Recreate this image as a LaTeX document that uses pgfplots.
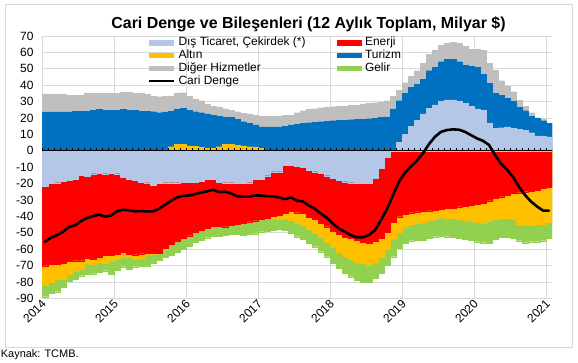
\documentclass[border=0pt]{standalone}
\usepackage{fontspec}
\setmainfont{Liberation Sans}
\usepackage{pgfplots}
\usepackage{pgfplotstable}
\pgfplotsset{compat=1.18}
\definecolor{dtc}{HTML}{B4C7E7}
\definecolor{enc}{HTML}{FF0000}
\definecolor{alc}{HTML}{FFC000}
\definecolor{tuc}{HTML}{0070C0}
\definecolor{dhc}{HTML}{BFBFBF}
\definecolor{gec}{HTML}{92D050}
\definecolor{grd}{HTML}{D9D9D9}
\pgfplotsset{
  barleg/.style={legend image code/.code={\fill[##1, draw=none] (0bp,-2.7bp) rectangle (25bp,2.7bp);}},
  lineleg/.style={legend image code/.code={\draw[##1] (0bp,0bp) -- (25bp,0bp);}},
  mybar/.style={ybar, bar width=1, bar shift=0pt, fill=#1, draw=#1, line width=0.2bp, forget plot},
}
% m: month index from Jan 2014; GT: top of Diger Hizmetler; BT: top of Turizm;
% DTP: Dis Ticaret (positive); AP: Altin (positive); DB: Dis Ticaret (negative);
% RB: bottom of Enerji; OB: bottom of Altin; GB: bottom of Gelir; L: Cari Denge
\pgfplotstableread{
m GT BT DTP AP DB RB OB GB L
0 34.6 23.6 0 0 -21.5 -70.1 -81.9 -89.0 -55.5
1 34.6 23.6 0 0 -20.0 -69.1 -80.3 -87.0 -53.0
2 34.6 23.6 0 0 -19.5 -69.1 -78.4 -86.0 -51.5
3 34.6 23.6 0 0 -18.5 -68.7 -78.4 -83.0 -49.5
4 33.9 23.6 0 0 -18.0 -67.5 -75.4 -79.3 -46.5
5 33.9 24.2 0 0 -17.3 -67.1 -73.2 -78.5 -45.5
6 33.9 24.2 0 0 -15.0 -67.1 -72.4 -76.2 -43.0
7 35.0 24.2 0 0 -15.3 -65.5 -68.7 -75.4 -41.0
8 35.0 24.8 0 0 -14.0 -66.1 -69.1 -75.0 -40.0
9 35.0 25.4 0 0 -13.6 -64.8 -68.1 -74.2 -39.0
10 35.0 24.8 0 0 -14.0 -63.8 -68.7 -73.2 -40.2
11 35.0 24.8 0 0 -13.6 -63.8 -67.1 -75.2 -39.5
12 35.0 24.8 0 0 -14.0 -63.0 -65.9 -72.8 -37.0
13 35.6 25.4 0 0 -16.0 -61.8 -64.6 -70.7 -36.0
14 35.6 24.8 0 0 -17.3 -63.0 -65.0 -72.0 -36.3
15 35.0 24.8 0 0 -18.0 -63.4 -66.1 -70.7 -37.0
16 35.0 24.2 0 0 -19.2 -62.8 -65.2 -70.3 -36.8
17 34.3 24.2 0 0.3 -19.5 -62.6 -63.2 -70.1 -37.0
18 33.3 23.8 0 0 -21.0 -62.4 -63.0 -68.7 -37.0
19 32.9 23.2 0 0 -19.7 -62.4 -62.6 -66.7 -35.5
20 33.2 23.6 0 0.5 -19.5 -59.6 -59.9 -65.0 -33.0
21 33.5 24.2 0 2.5 -19.5 -57.0 -57.0 -63.8 -30.5
22 35.0 25.2 0 4.0 -19.5 -55.0 -55.0 -62.0 -28.5
23 35.4 25.8 0 4.0 -19.3 -53.5 -53.5 -60.0 -27.5
24 33.0 24.8 0 3.0 -19.3 -51.8 -51.8 -58.0 -27.3
25 31.3 23.8 0 2.8 -19.3 -49.8 -49.8 -56.0 -26.5
26 30.5 23.2 0 2.0 -18.5 -48.4 -48.4 -54.5 -25.5
27 28.5 22.4 0 1.5 -17.3 -47.4 -47.4 -53.0 -24.8
28 27.2 21.7 0 1.5 -17.5 -46.0 -46.0 -52.0 -23.8
29 26.4 21.1 0 2.5 -19.3 -46.0 -46.0 -52.0 -25.3
30 25.6 20.3 0 4.0 -19.5 -46.3 -46.3 -51.5 -25.0
31 24.8 20.3 0 4.0 -19.5 -45.3 -45.3 -51.0 -26.0
32 23.8 19.1 0 3.3 -19.7 -44.9 -44.9 -51.0 -27.8
33 22.8 17.7 0 3.0 -19.7 -44.3 -44.3 -51.5 -28.0
34 22.4 16.7 0 2.5 -19.5 -43.3 -43.3 -51.0 -28.0
35 21.5 15.7 0 2.3 -17.3 -42.7 -42.7 -50.6 -27.2
36 21.1 14.6 0 1.5 -17.3 -41.9 -41.9 -49.4 -27.4
37 21.1 14.6 0 0 -15.2 -41.3 -41.3 -49.0 -27.7
38 21.1 14.6 0 0 -12.8 -39.8 -41.3 -48.4 -27.8
39 21.3 14.6 0 0 -12.8 -39.2 -41.5 -47.9 -28.5
40 21.7 15.0 0 0 -8.7 -38.2 -41.3 -48.4 -29.5
41 21.7 15.7 0 0 -8.7 -37.0 -42.3 -50.4 -28.5
42 23.2 16.1 0 0 -9.3 -37.8 -43.9 -52.4 -30.5
43 24.4 16.7 0 0 -9.8 -38.2 -45.3 -54.1 -31.0
44 25.2 17.1 0 0 -11.8 -40.5 -48.0 -56.5 -33.5
45 25.6 17.3 0 0 -12.8 -42.0 -50.4 -58.5 -35.5
46 26.2 17.7 0 0 -13.8 -44.3 -52.8 -61.6 -38.5
47 26.4 17.9 0 0 -15.2 -46.3 -55.7 -64.6 -41.0
48 26.8 18.3 0 0 -16.9 -49.0 -58.5 -68.7 -44.5
49 27.0 18.5 0 0 -17.9 -51.0 -61.6 -71.7 -47.5
50 27.2 18.7 0 0 -18.9 -52.6 -64.2 -74.8 -49.5
51 27.6 18.9 0 0 -19.5 -53.5 -66.3 -76.8 -51.5
52 27.8 19.1 0 0 -19.9 -54.5 -67.7 -78.9 -52.8
53 28.5 19.3 0 0 -19.9 -55.8 -68.7 -80.3 -52.8
54 28.9 19.5 0 0 -19.9 -56.3 -69.5 -80.3 -51.4
55 29.3 19.9 0 0 -16.9 -55.0 -68.0 -77.8 -48.5
56 29.5 20.3 0 0 -10.8 -53.5 -65.0 -74.8 -42.3
57 30.5 20.7 0 0 -4.0 -49.5 -60.0 -69.7 -35.5
58 33.0 25.5 0 0 0 -43.5 -53.5 -64.6 -27.0
59 37.0 30.5 5.0 0 0 -40.2 -49.4 -59.6 -19.0
60 41.5 35.0 10.0 0 0 -38.6 -46.3 -56.5 -13.5
61 45.5 38.5 15.0 0 0 -37.8 -44.9 -54.9 -9.5
62 48.8 40.5 18.5 0 0 -37.2 -43.9 -54.5 -6.0
63 53.3 43.5 22.5 0 0 -37.0 -43.3 -54.5 -1.5
64 58.9 48.8 26.0 0 0 -36.6 -42.3 -53.5 4.0
65 61.4 50.8 28.0 0 0 -36.2 -41.5 -52.4 8.5
66 64.4 54.3 30.0 0 0 -35.6 -40.7 -52.0 11.5
67 65.4 55.7 31.0 0 0 -35.2 -40.9 -52.4 12.6
68 66.1 55.7 31.0 0 0 -34.8 -41.3 -52.8 13.0
69 65.4 54.3 30.0 0 0 -34.1 -41.7 -53.5 12.8
70 63.8 52.2 29.0 0 0 -33.7 -42.3 -54.1 11.5
71 62.0 51.6 27.0 0 0 -33.1 -42.7 -54.5 9.5
72 61.8 50.8 25.5 0 0 -32.5 -43.3 -55.5 7.5
73 61.4 46.7 24.5 0 0 -32.1 -43.9 -56.1 6.0
74 53.3 41.1 17.0 0 0 -30.5 -42.7 -56.5 3.5
75 49.2 35.0 13.5 0 0 -29.1 -41.9 -54.1 -2.5
76 42.7 33.9 14.0 0 0 -28.0 -41.3 -52.8 -8.0
77 39.4 31.9 14.5 0 0 -27.0 -41.3 -52.8 -11.5
78 36.0 30.3 13.5 0 0 -26.0 -41.9 -53.5 -16.0
79 30.9 26.4 13.0 0 0 -25.6 -44.5 -54.9 -22.0
80 27.2 24.4 12.5 0 0 -25.0 -45.5 -56.1 -27.0
81 23.2 21.1 11.0 0 0 -24.6 -45.5 -55.5 -31.0
82 20.1 19.7 9.0 0 0 -24.0 -45.0 -55.5 -34.0
83 19.1 18.3 9.0 0 0 -23.0 -44.5 -54.9 -36.5
84 16.7 16.7 8.5 0 0 -22.4 -43.5 -53.5 -36.5
}\data

\begin{document}
\begin{tikzpicture}
\path[use as bounding box] (0bp,0bp) rectangle (578bp,363bp);
\draw[grd, line width=0.75bp] (5.5bp,16bp) rectangle (572bp,358.6bp);
\node[anchor=base, font=\bfseries\fontsize{16}{19}\selectfont, inner sep=0] at (308.5bp,334.7bp) {Cari Denge ve Bileşenleri (12 Aylık Toplam, Milyar \$)};
\node[anchor=base west, font=\fontsize{11}{13}\selectfont, inner sep=0] at (0.7bp,6bp) {Kaynak: TCMB.};
\begin{axis}[
  at={(42bp,64.7bp)}, anchor=south west, scale only axis,
  width=510bp, height=262.4bp,
  xmin=0, xmax=85, ymin=-90, ymax=70, enlargelimits=false,
  ytick={-90,-80,...,70},
  xtick={0,12,...,84}, xticklabels={2014,2015,2016,2017,2018,2019,2020,2021},
  /pgf/number format/assume math mode=true,
  tick label style={font=\fontsize{12}{14}\selectfont},
  yticklabel style={xshift=-5bp},
  xticklabel style={rotate=45, anchor=east, inner sep=1bp, yshift=-4bp},
  axis line style={draw=none},
  major tick length=0pt,
  grid=major, grid style={grd, line width=0.75bp},
  legend columns=2,
  legend style={at={(0.2075,0.998)}, anchor=north west, draw=none, fill=none,
    inner sep=0pt, font=\fontsize{12}{14}\selectfont,
    nodes={inner sep=0.5bp, text height=8.8bp, text depth=2.9bp},
    /tikz/every odd column/.append style={column sep=2.4bp},
    /tikz/every even column/.append style={column sep=31bp}},
  legend cell align=left,
]
\addplot[mybar=dhc] table[x expr=\thisrow{m}+0.5, y=GT]{\data};
\addplot[mybar=tuc] table[x expr=\thisrow{m}+0.5, y=BT]{\data};
\addplot[mybar=dtc] table[x expr=\thisrow{m}+0.5, y=DTP]{\data};
\addplot[mybar=alc] table[x expr=\thisrow{m}+0.5, y=AP]{\data};
\addplot[mybar=gec] table[x expr=\thisrow{m}+0.5, y=GB]{\data};
\addplot[mybar=alc] table[x expr=\thisrow{m}+0.5, y=OB]{\data};
\addplot[mybar=enc] table[x expr=\thisrow{m}+0.5, y=RB]{\data};
\addplot[mybar=dtc] table[x expr=\thisrow{m}+0.5, y=DB]{\data};
\addplot[black, line width=0.9bp, forget plot] coordinates {(0,0) (85,0)};
\pgfplotsinvokeforeach{0,...,85}{\draw[black, line width=0.75bp] (axis cs:#1,0) -- ([yshift=3bp]axis cs:#1,0);}
\addplot[black, line width=2.6bp, line join=round, line cap=round, forget plot] table[x expr=\thisrow{m}+0.5, y=L]{\data};
\addlegendimage{barleg, fill=dtc}\addlegendentry{Dış Ticaret, Çekirdek (*)}
\addlegendimage{barleg, fill=enc}\addlegendentry{Enerji}
\addlegendimage{barleg, fill=alc}\addlegendentry{Altın}
\addlegendimage{barleg, fill=tuc}\addlegendentry{Turizm}
\addlegendimage{barleg, fill=dhc}\addlegendentry{Diğer Hizmetler}
\addlegendimage{barleg, fill=gec}\addlegendentry{Gelir}
\addlegendimage{lineleg, black, line width=2.6bp}\addlegendentry{Cari Denge}
\end{axis}
\end{tikzpicture}
\end{document}
